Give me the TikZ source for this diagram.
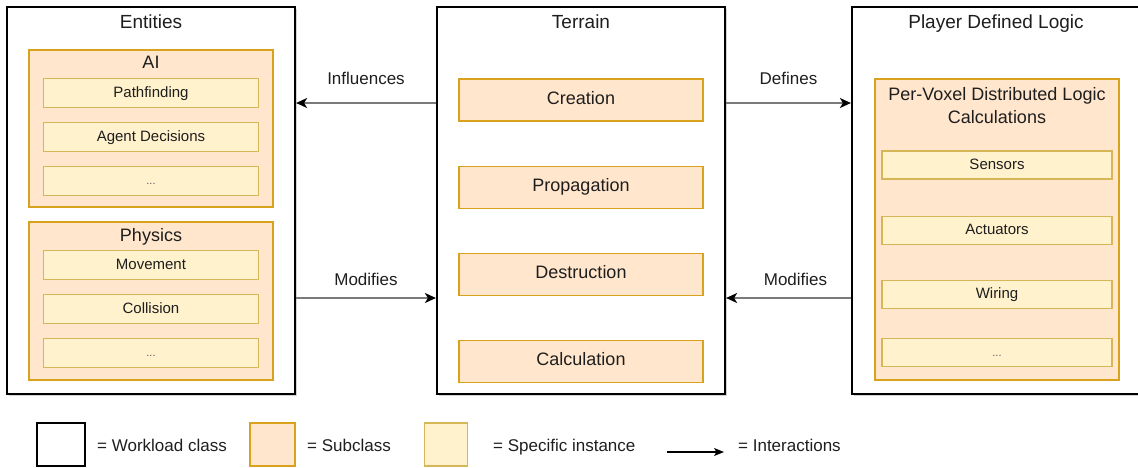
\documentclass[tikz,border=0pt]{standalone}
\usepackage{fontspec}
\setmainfont{Liberation Sans}
\usetikzlibrary{arrows.meta, positioning, shadows}
\definecolor{subfill}{HTML}{FFE6CC}
\definecolor{subline}{HTML}{D9A21C}
\definecolor{instfill}{HTML}{FFF2CC}
\definecolor{instline}{HTML}{D6B656}
\definecolor{linkgray}{HTML}{7A7A7A}
\definecolor{textdark}{HTML}{1E1E1E}

\begin{document}
\begin{tikzpicture}[
  x=1pt, y=-1pt,
  every node/.style={text=textdark},
  workload/.style={rectangle, draw=black, line width=2.2pt, fill=white, minimum width=288pt, minimum height=387pt, inner sep=0pt,
    drop shadow={opacity=0.35, shadow xshift=1.5pt, shadow yshift=-1.5pt}},
  subclass/.style={rectangle, draw=subline, line width=1.1pt, fill=subfill, minimum width=244pt, inner sep=0pt},
  subtext/.style={font=\fontsize{18}{21}\selectfont, text height=0.8em, text depth=0pt},
  instance/.style={rectangle, draw=instline, line width=1.1pt, fill=instfill, minimum width=215pt, minimum height=29pt, inner sep=0pt,
    font=\fontsize{15}{18}\selectfont, text height=0.85em, text depth=0pt},
  more/.style={instance, font=\fontsize{11}{13}\selectfont, text=black!65, text height=0.75em},
  title/.style={font=\fontsize{19}{22}\selectfont, inner sep=0pt, anchor=base},
  lbl/.style={font=\fontsize{17}{20}\selectfont, inner sep=0pt},
  legtext/.style={lbl, anchor=base west},
  arr/.style={draw=linkgray, line width=1.6pt, -{Stealth[length=11pt, width=10pt, inset=3pt, color=black]}},
  legbox/.style={rectangle, minimum width=45pt, minimum height=43pt, inner sep=0pt}
]
\useasboundingbox (0,0) rectangle (1138,467);

% workload classes
\node[workload] (entities) at (151,200.5) {};
\node[workload] (terrain) at (581,200.5) {};
\node[workload] (logic) at (996,200.5) {};
\node[title] (entitiestitle) at (151,28) {Entities};
\node[title] (terraintitle) at (581,28) {Terrain};
\node[title] (logictitle) at (996,28) {Player Defined Logic};

% entities
\node[subclass, minimum height=157pt] (ai) at (151,128.5) {};
\node[title, subtext] (aititle) at (151,68) {AI};
\node[instance] (pathfinding) at (151,93) {Pathfinding};
\node[instance, below=14pt of pathfinding] (decisions) {Agent Decisions};
\node[more, below=14pt of decisions] (aimore) {...};
\node[subclass, minimum height=158pt] (physics) at (151,301) {};
\node[title, subtext] (physicstitle) at (151,241) {Physics};
\node[instance] (movement) at (151,265) {Movement};
\node[instance, below=14pt of movement] (collision) {Collision};
\node[more, below=14pt of collision] (physicsmore) {...};

% terrain
\node[subclass, subtext, minimum height=42pt] (creation) at (581,100) {Creation};
\node[subclass, subtext, minimum height=42pt, below=44pt of creation] (propagation) {Propagation};
\node[subclass, subtext, minimum height=42pt, below=44pt of propagation] (destruction) {Destruction};
\node[subclass, subtext, minimum height=42pt, below=44pt of destruction] (calculation) {Calculation};

% player defined logic
\node[subclass, minimum height=301pt] (voxel) at (997,229.5) {};
\node[title, subtext] (voxeltitle) at (997,100) {Per-Voxel Distributed Logic};
\node[title, subtext] (voxeltitle2) at (997,123) {Calculations};
\node[instance, minimum width=230pt, minimum height=28pt] (sensors) at (997,165) {Sensors};
\node[instance, minimum width=230pt, minimum height=28pt, below=36pt of sensors] (actuators) {Actuators};
\node[instance, minimum width=230pt, minimum height=28pt, below=35pt of actuators] (wiring) {Wiring};
\node[more, minimum width=230pt, minimum height=28pt, below=29pt of wiring] (logicmore) {...};

% interactions
\coordinate (lowrow) at (0,298);
\draw[arr] ([yshift=-3pt]terrain.west |- creation) -- node[lbl, above=18pt] {Influences} ([yshift=-3pt]entities.east |- creation);
\draw[arr] ([yshift=-3pt]terrain.east |- creation) -- node[lbl, above=18pt] {Defines} ([yshift=-3pt]logic.west |- creation);
\draw[arr] (entities.east |- lowrow) -- node[lbl, above=12pt] {Modifies} (terrain.west |- lowrow);
\draw[arr] (logic.west |- lowrow) -- node[lbl, above=12pt, xshift=7pt] {Modifies} (terrain.east |- lowrow);

% legend
\node[legbox, draw=black, line width=2.2pt, fill=white, minimum width=48pt] (legworkload) at (61,444.5) {};
\node[legtext] (legworkloadtext) at (97,451) {= Workload class};
\node[legbox, draw=subline, line width=1.1pt, fill=subfill] (legsub) at (272.5,444.5) {};
\node[legtext] (legsubtext) at (307,451) {= Subclass};
\node[legbox, draw=instline, line width=1.1pt, fill=instfill, minimum width=43pt] (leginst) at (446,444.5) {};
\node[legtext] (leginsttext) at (493,451) {= Specific instance};
\coordinate (legfrom) at (667,452);
\coordinate (legto) at (724,452);
\draw[line width=1.2pt, -{Stealth[length=10pt, width=8pt, inset=2.5pt]}] (legfrom) -- (legto);
\node[legtext] (legarrtext) at (738,451) {= Interactions};
\end{tikzpicture}
\end{document}
